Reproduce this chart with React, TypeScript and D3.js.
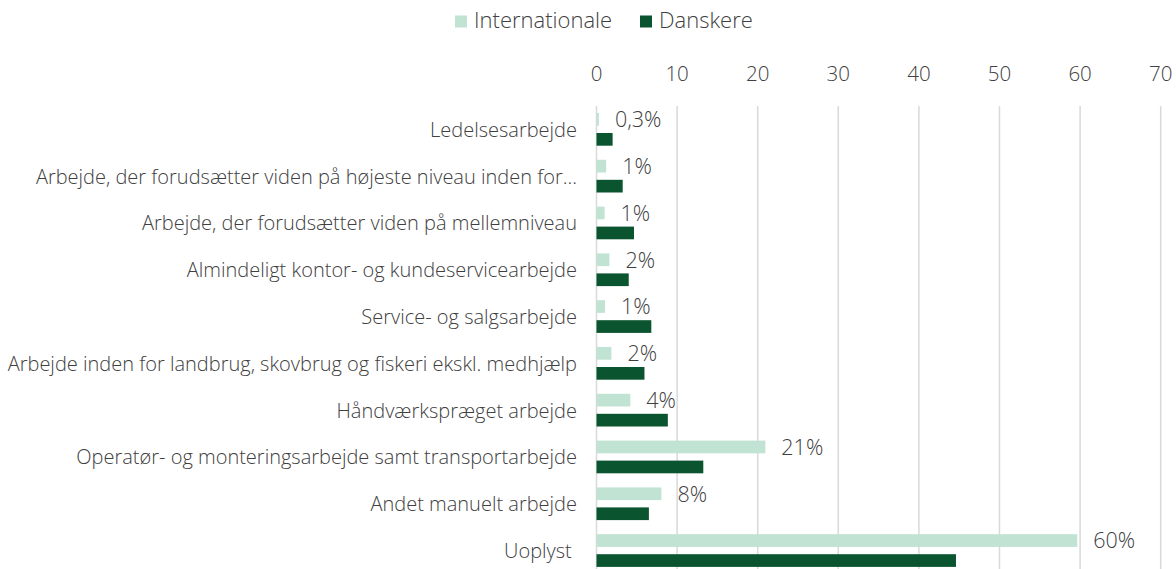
import React from "react";
import * as d3 from "d3";

const categories = [
  "Ledelsesarbejde",
  "Arbejde, der forudsætter viden på højeste niveau inden for...",
  "Arbejde, der forudsætter viden på mellemniveau",
  "Almindeligt kontor- og kundeservicearbejde",
  "Service- og salgsarbejde",
  "Arbejde inden for landbrug, skovbrug og fiskeri ekskl. medhjælp",
  "Håndværkspræget arbejde",
  "Operatør- og monteringsarbejde samt transportarbejde",
  "Andet manuelt arbejde",
  "Uoplyst ",
];
const internationale = [0.3, 1.2, 1.0, 1.6, 1.05, 1.85, 4.2, 20.95, 8.05, 59.65];
const danskere = [2.0, 3.25, 4.65, 4.0, 6.8, 5.95, 8.85, 13.25, 6.5, 44.6];
const labels = ["0,3%", "1%", "1%", "2%", "1%", "2%", "4%", "21%", "8%", "60%"];
const ticks = [0, 10, 20, 30, 40, 50, 60, 70];
const seriesNames = ["Internationale", "Danskere"];

const W = 1176;
const H = 569;
const FONT = "'Open Sans', sans-serif";
const TEXT = "#404040";
const C_INT = "#c1e3d3";
const C_DAN = "#0a5430";

export default function App() {
  const x = d3.scaleLinear().domain([0, 70]).range([596.5, 1160.7]);
  const y = d3.scaleBand().domain(categories).range([106, 574]).paddingInner(0).paddingOuter(0);
  const bw = y.bandwidth();
  const barH = 12.7;
  const off = 7;
  const gap = 7.3;

  return (
    <svg width={W} height={H} style={{ position: "absolute", left: 0, top: 0, background: "#fff" }}>
      <g fontFamily={FONT} fill={TEXT} fontWeight={300}>
        {/* legend */}
        <rect x={455} y={15.5} width={12} height={12} fill={C_INT} />
        <text x={474} y={22} fontSize={22} dominantBaseline="middle">{seriesNames[0]}</text>
        <rect x={640} y={15.5} width={12} height={12} fill={C_DAN} />
        <text x={659} y={22} fontSize={22} dominantBaseline="middle">{seriesNames[1]}</text>

        {/* grid */}
        {ticks.map((t) => (
          <g key={t}>
            <line x1={x(t)} x2={x(t)} y1={106} y2={574} stroke="#d9d9d9" strokeWidth={1.5} />
            <text x={x(t)} y={76} fontSize={20.5} textAnchor="middle" dominantBaseline="middle">{t}</text>
          </g>
        ))}

        {categories.map((c, i) => {
          const y0 = (y(c) as number) + off;
          return (
            <g key={c}>
              <rect x={x(0)} y={y0} width={x(internationale[i]) - x(0)} height={barH} fill={C_INT} />
              <rect x={x(0)} y={y0 + barH + gap} width={x(danskere[i]) - x(0)} height={barH} fill={C_DAN} />
              <text x={x(internationale[i]) + 16} y={y0 + barH / 2 + 2} fontSize={21.5} dominantBaseline="middle">{labels[i]}</text>
              <text x={577} y={(y(c) as number) + bw / 2 + 2} fontSize={20} textAnchor="end" dominantBaseline="middle" style={{ whiteSpace: "pre" }}>{c}</text>
            </g>
          );
        })}
      </g>
    </svg>
  );
}
